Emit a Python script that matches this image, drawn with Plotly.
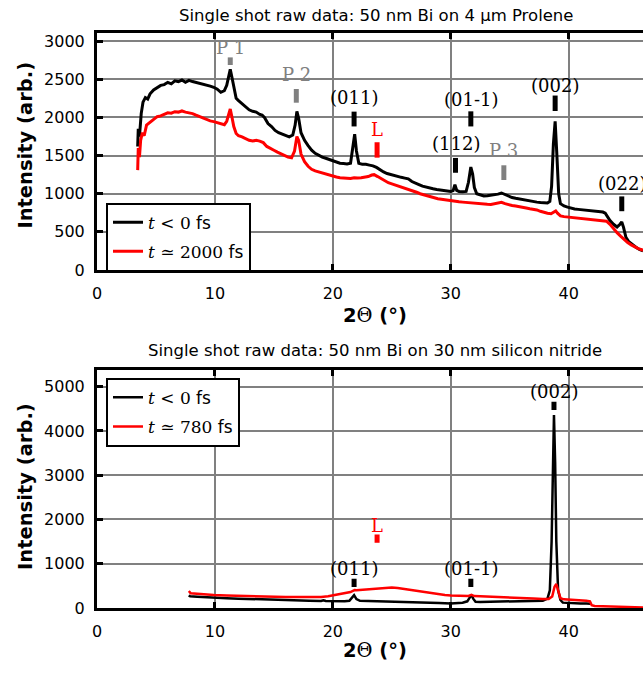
import plotly.graph_objects as go

# ---------------- data: top panel (50 nm Bi on 4 um Prolene) ----------------
top_black_x = [3.45, 3.5, 3.6, 3.75, 3.9, 4.1, 4.3, 4.5, 4.8, 5.1, 5.4, 5.7, 6.0, 6.3, 6.6, 6.9, 7.2, 7.5, 7.8, 8.1,
               8.4, 8.7, 9.0, 9.3, 9.6, 9.9, 10.2, 10.5, 10.8, 11.0, 11.2, 11.3, 11.45, 11.6, 11.8, 12.0, 12.3, 12.6,
               12.9, 13.2, 13.5, 13.8, 14.0, 14.2, 14.5, 14.8, 15.1, 15.4, 15.7, 16.0, 16.3, 16.6, 16.8, 16.95, 17.1,
               17.3, 17.6, 17.9, 18.2, 18.5, 18.8, 19.1, 19.4, 19.7, 20.0, 20.3, 20.6, 20.9, 21.2, 21.5, 21.7, 21.85,
               22.0, 22.2, 22.5, 22.8, 23.1, 23.4, 23.7, 24.0, 24.3, 24.6, 24.9, 25.2, 25.5, 25.8, 26.1, 26.4, 26.7,
               27.0, 27.3, 27.6, 27.9, 28.2, 28.5, 28.8, 29.1, 29.4, 29.7, 30.0, 30.2, 30.35, 30.5, 30.7, 31.0, 31.3,
               31.5, 31.7, 31.85, 32.0, 32.2, 32.5, 32.8, 33.1, 33.4, 33.7, 34.0, 34.3, 34.6, 34.9, 35.2, 35.5, 35.8,
               36.1, 36.4, 36.7, 37.0, 37.3, 37.6, 37.9, 38.2, 38.4, 38.55, 38.7, 38.85, 39.0, 39.15, 39.3, 39.6, 39.9,
               40.2, 40.5, 40.8, 41.1, 41.4, 41.7, 42.0, 42.3, 42.6, 42.9, 43.1, 43.3, 43.5, 43.8, 44.1, 44.35, 44.5,
               44.65, 44.85, 45.1, 45.4, 45.7, 46.0, 46.3]
top_black_y = [1620, 1850, 1750, 2050, 2200, 2260, 2240, 2310, 2360, 2390, 2420, 2430, 2460, 2440, 2480, 2470, 2490,
               2460, 2485, 2470, 2460, 2450, 2440, 2430, 2410, 2395, 2370, 2330, 2350, 2420, 2560, 2630, 2520, 2380,
               2250, 2220, 2180, 2150, 2100, 2080, 2070, 2040, 2030, 2000, 1920, 1880, 1830, 1800, 1780, 1760, 1745,
               1770, 1900, 2080, 1990, 1800, 1700, 1630, 1570, 1530, 1500, 1480, 1465, 1450, 1430, 1410, 1400, 1395,
               1390, 1400, 1600, 1780, 1560, 1400, 1385, 1385, 1375, 1365, 1345, 1310, 1285, 1265, 1250, 1235, 1225,
               1215, 1205, 1195, 1160, 1135, 1120, 1100, 1085, 1075, 1065, 1055, 1048, 1040, 1035, 1030, 1040, 1120,
               1045, 1030, 1025, 1030, 1150, 1350, 1260, 1080, 1000, 980, 970, 975, 980, 985, 995, 1010, 990, 965, 950,
               940, 930, 920, 912, 905, 898, 890, 885, 878, 880, 900, 1100, 1650, 1950, 1500, 1000, 870, 840, 825, 810,
               800, 795, 790, 785, 780, 775, 775, 770, 760, 745, 700, 650, 600, 565, 600, 630, 560, 430, 370, 330, 300,
               270, 250]

top_red_x = [3.45, 3.5, 3.6, 3.7, 3.85, 4.0, 4.2, 4.5, 4.8, 5.1, 5.4, 5.7, 6.0, 6.3, 6.6, 6.9, 7.2, 7.5, 7.8, 8.1, 8.4,
             8.7, 9.0, 9.3, 9.6, 9.9, 10.2, 10.5, 10.8, 11.0, 11.15, 11.3, 11.45, 11.6, 11.8, 12.0, 12.3, 12.6, 12.9,
             13.2, 13.5, 13.8, 14.1, 14.4, 14.7, 15.0, 15.3, 15.6, 15.9, 16.2, 16.5, 16.75, 16.95, 17.1, 17.3, 17.6,
             17.9, 18.2, 18.5, 18.8, 19.1, 19.4, 19.7, 20.0, 20.3, 20.6, 20.9, 21.2, 21.5, 21.8, 22.1, 22.4, 22.7, 23.0,
             23.3, 23.5, 23.8, 24.1, 24.4, 24.7, 25.0, 25.3, 25.6, 25.9, 26.2, 26.5, 26.8, 27.1, 27.4, 27.7, 28.0,
             28.3, 28.6, 28.9, 29.2, 29.5, 29.8, 30.1, 30.4, 30.7, 31.0, 31.3, 31.6, 31.9, 32.2, 32.5, 32.8, 33.1,
             33.4, 33.7, 34.0, 34.3, 34.6, 34.9, 35.2, 35.5, 35.8, 36.1, 36.4, 36.7, 37.0, 37.3, 37.6, 37.9, 38.2,
             38.5, 38.75, 38.9, 39.05, 39.3, 39.6, 39.9, 40.2, 40.5, 40.8, 41.1, 41.4, 41.7, 42.0, 42.3, 42.6, 42.9,
             43.2, 43.5, 43.8, 44.1, 44.4, 44.7, 45.0, 45.3, 45.6, 45.9, 46.3]
top_red_y = [1310, 1600, 1480, 1700, 1800, 1760, 1900, 1940, 1980, 2010, 2020, 2040, 2060, 2055, 2075, 2070, 2085,
             2070, 2060, 2050, 2030, 2010, 2000, 1975, 1955, 1945, 1930, 1915, 1905, 1950, 2050, 2110, 2000, 1880,
             1790, 1760, 1745, 1720, 1700, 1690, 1700, 1690, 1670, 1620, 1590, 1570, 1545, 1520, 1500, 1480, 1470,
             1560, 1750, 1700, 1520, 1420, 1360, 1320, 1300, 1285, 1275, 1265, 1250, 1235, 1220, 1210, 1205, 1200,
             1200, 1210, 1205, 1210, 1215, 1225, 1245, 1250, 1225, 1195, 1170, 1145, 1130, 1115, 1100, 1090, 1075,
             1060, 1040, 1020, 1000, 985, 970, 955, 945, 935, 928, 920, 912, 905, 900, 895, 890, 885, 880, 878, 872,
             868, 865, 862, 860, 868, 878, 888, 870, 855, 845, 838, 832, 822, 812, 803, 795, 788, 770, 755, 745, 738,
             760, 775, 745, 710, 700, 695, 690, 685, 682, 678, 672, 668, 665, 662, 655, 648, 640, 600, 540, 490, 445,
             400, 360, 330, 300, 280, 260]

# ---------------- data: bottom panel (50 nm Bi on 30 nm silicon nitride) ----------------
bot_black_x = [7.77, 7.9, 8.5, 9.0, 9.9, 11.0, 12.0, 13.0, 14.1, 15.0, 16.0, 17.0, 18.0, 19.0, 19.2, 19.4, 20.0, 20.5,
               21.0, 21.4, 21.6, 21.8, 22.0, 22.3, 23.0, 24.0, 25.0, 26.0, 27.0, 28.0, 29.0, 30.0, 30.4, 31.0, 31.4,
               31.6, 31.75, 31.9, 32.1, 32.5, 33.5, 34.5, 35.5, 36.5, 37.2, 37.8, 38.2, 38.4, 38.55, 38.65, 38.75,
               38.85, 38.95, 39.1, 39.3, 39.5, 40.0, 40.5, 41.0, 41.5, 41.85]
bot_black_y = [280, 265, 255, 245, 232, 220, 210, 200, 193, 185, 178, 170, 163, 158, 175, 158, 152, 150, 150, 160,
               220, 290, 200, 160, 155, 150, 145, 140, 130, 120, 110, 100, 110, 120, 150, 230, 295, 210, 140, 135,
               138, 140, 142, 145, 150, 165, 210, 400, 1500, 3300, 4360, 3300, 1500, 400, 180, 120, 110, 105, 100,
               98, 95]

bot_red_x = [7.77, 7.85, 7.95, 8.5, 9.0, 9.9, 11.0, 12.0, 13.0, 14.0, 15.0, 16.0, 17.0, 18.0, 19.0, 19.6, 20.0, 20.5,
             21.0, 21.5, 21.7, 21.85, 22.0, 22.5, 23.0, 23.5, 24.0, 24.5, 25.0, 25.5, 26.0, 26.5, 27.0, 27.5, 28.0,
             28.5, 29.0, 29.5, 30.0, 30.5, 31.0, 31.5, 31.75, 32.0, 32.5, 33.0, 34.0, 35.0, 36.0, 37.0, 37.8, 38.3,
             38.6, 38.8, 38.95, 39.1, 39.3, 39.6, 40.0, 40.5, 41.0, 41.5, 41.8, 41.95, 42.2, 43.0, 44.0, 45.0, 46.3]
bot_red_y = [345, 360, 330, 315, 305, 290, 282, 272, 265, 258, 252, 248, 245, 243, 248, 262, 280, 305, 330, 360, 385,
             405, 400, 410, 425, 440, 455, 465, 462, 450, 430, 410, 385, 360, 340, 320, 305, 292, 282, 275, 270, 272,
             295, 268, 262, 255, 245, 238, 228, 215, 205, 200, 260, 480, 540, 380, 220, 195, 190, 182, 175, 165, 150,
             60, 45, 38, 28, 20, 12]

# ---------------- peak markers ----------------
top_peak_labels = ["P 1", "P 2", "(011)", "L", "(112)", "(01-1)", "P 3", "(002)", "(022)"]
top_peak_pos = [11.3, 16.9, 21.8, 23.75, 30.4, 31.7, 34.5, 38.85, 44.5]
top_peak_kind = ["sub", "sub", "bi", "liq", "bi", "bi", "sub", "bi", "bi"]
top_bar_low = [2687, 2193, 1882, 1473, 1275, 1882, 1180, 2084, 771]
top_bar_high = [2787, 2373, 2076, 1675, 1469, 2080, 1373, 2287, 965]
top_label_y = [2915, 2565, 2257, 1847, 1654, 2240, 1567, 2420, 1137]

bot_peak_labels = ["(011)", "L", "(01-1)", "(002)"]
bot_peak_pos = [21.8, 23.75, 31.7, 38.75]
bot_peak_kind = ["bi", "liq", "bi", "bi"]
bot_bar_low = [473, 1473, 473, 4473]
bot_bar_high = [660, 1660, 660, 4660]
bot_label_y = [896, 1867, 896, 4896]

top_xticks = [0, 10, 20, 30, 40]
top_yticks = [0, 500, 1000, 1500, 2000, 2500, 3000]
bot_yticks = [0, 1000, 2000, 3000, 4000, 5000]

kind_color = {"sub": "#808080", "bi": "black", "liq": "#ff0000"}

W, H = 643, 675
L_M = 97


def px(xp):
    return (xp - L_M) / (W - L_M)


def py(yp):
    return 1 - yp / H


fig = go.Figure()

serif = "DejaVu Serif"
fig.add_trace(go.Scatter(x=top_black_x, y=top_black_y, mode="lines", line=dict(color="black", width=3),
                         name=f'<span style="font-family:{serif}"><i>t</i> &lt; 0</span> fs',
                         xaxis="x", yaxis="y", legend="legend", legendgroup="a"))
fig.add_trace(go.Scatter(x=top_red_x, y=top_red_y, mode="lines", line=dict(color="#ff0000", width=3),
                         name=f'<span style="font-family:{serif}"><i>t</i> \u2243 2000</span> fs',
                         xaxis="x", yaxis="y", legend="legend", legendgroup="b"))
fig.add_trace(go.Scatter(x=bot_black_x, y=bot_black_y, mode="lines", line=dict(color="black", width=2.5),
                         name=f'<span style="font-family:{serif}"><i>t</i> &lt; 0</span> fs',
                         xaxis="x2", yaxis="y2", legend="legend2", legendgroup="c"))
fig.add_trace(go.Scatter(x=bot_red_x, y=bot_red_y, mode="lines", line=dict(color="#ff0000", width=2.5),
                         name=f'<span style="font-family:{serif}"><i>t</i> \u2243 780</span> fs',
                         xaxis="x2", yaxis="y2", legend="legend2", legendgroup="d"))

shapes = []
annotations = []


def add_markers(labels, pos, kinds, lo, hi, ly, xr, yr):
    for lab, x, k, a, b, yl in zip(labels, pos, kinds, lo, hi, ly):
        c = kind_color[k]
        shapes.append(dict(type="rect", xref=xr, yref=yr, xsizemode="pixel", xanchor=x, x0=-2.5, x1=2.5,
                           y0=a, y1=b, fillcolor=c, line=dict(width=0), layer="above"))
        annotations.append(dict(text=lab, x=x, y=yl, xref=xr, yref=yr, showarrow=False,
                                font=dict(family=serif, size=18, color=c), xanchor="center", yanchor="middle"))


add_markers(top_peak_labels, top_peak_pos, top_peak_kind, top_bar_low, top_bar_high, top_label_y, "x", "y")
add_markers(bot_peak_labels, bot_peak_pos, bot_peak_kind, bot_bar_low, bot_bar_high, bot_label_y, "x2", "y2")

# titles and axis titles
title_font = dict(family="DejaVu Sans", size=16.5, color="black")
annotations.append(dict(text="Single shot raw data: 50 nm Bi on 4 \u00b5m Prolene", x=px(376), y=py(15),
                        xref="paper", yref="paper", showarrow=False, font=title_font, xanchor="center",
                        yanchor="middle"))
annotations.append(dict(text="Single shot raw data: 50 nm Bi on 30 nm silicon nitride", x=px(375), y=py(355),
                        xref="paper", yref="paper", showarrow=False, font=title_font, xanchor="center",
                        yanchor="middle"))
ax_font = dict(family="DejaVu Sans", size=19.5, color="black")
xlab = f'<b>2</b><span style="font-family:{serif}">\u0398</span><b> (\u00b0)</b>'
for yc in (320, 660):
    annotations.append(dict(text=xlab, x=px(375), y=py(yc), xref="paper", yref="paper", showarrow=False,
                            font=ax_font, xanchor="center", yanchor="middle"))
for yc in (147, 494):
    annotations.append(dict(text="<b>Intensity (arb.)</b>", x=px(26), y=py(yc), xref="paper", yref="paper",
                            showarrow=False, font=ax_font, textangle=-90, xanchor="center", yanchor="middle"))

tick_font = dict(family="DejaVu Sans", size=16, color="black")
common_x = dict(range=[0, 46.3], tickvals=top_xticks, showgrid=True, gridcolor="#808080", gridwidth=1.6,
                zeroline=False, showline=True, linecolor="black", linewidth=3, mirror="ticks", ticks="inside",
                ticklen=6, tickwidth=2.5, tickcolor="black", tickfont=tick_font, ticklabelstandoff=7)
common_y = dict(showgrid=True, gridcolor="#808080", gridwidth=1.6, zeroline=False, showline=True,
                linecolor="black", linewidth=3, mirror=False, ticks="inside", ticklen=6, tickwidth=2.5,
                tickcolor="black", tickfont=tick_font, ticklabelstandoff=6)

legend_common = dict(bgcolor="white", bordercolor="black", borderwidth=2,
                     font=dict(family="DejaVu Sans", size=17, color="black"), xanchor="left", yanchor="top",
                     tracegroupgap=4, itemwidth=30)

fig.update_layout(
    width=W, height=H, margin=dict(l=L_M, r=0, t=0, b=0),
    paper_bgcolor="white", plot_bgcolor="white",
    xaxis=dict(domain=[0, 1], anchor="y", **common_x),
    yaxis=dict(domain=[py(273.5), py(32.5)], anchor="x", range=[0, 3107], tickvals=top_yticks, **common_y),
    xaxis2=dict(domain=[0, 1], anchor="y2", **common_x),
    yaxis2=dict(domain=[py(617), py(375)], anchor="x2", range=[0, 5380], tickvals=bot_yticks, **common_y),
    legend=dict(x=px(106), y=py(205), **legend_common),
    legend2=dict(x=px(106), y=py(383), **legend_common),
    shapes=shapes, annotations=annotations, showlegend=True,
)

fig.write_html("out.html")
